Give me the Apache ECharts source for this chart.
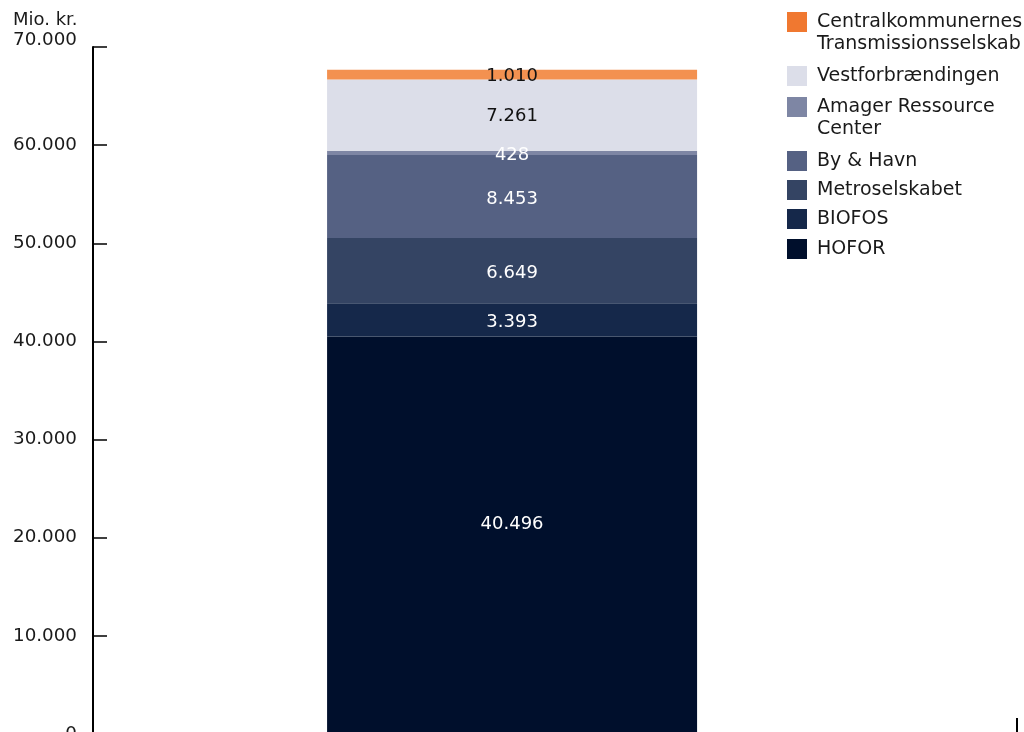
<!DOCTYPE html>
<html>
<head>
<meta charset="utf-8">
<script src="https://cdn.jsdelivr.net/npm/echarts@6/dist/echarts.min.js"></script>
<style>
html,body{margin:0;padding:0;background:#fff;}
#chart{width:1024px;height:732px;}
</style>
</head>
<body>
<div id="chart"></div>
<script>
// ---- data ----
const categories = [''];
const seriesNames = ['HOFOR', 'BIOFOS', 'Metroselskabet', 'By & Havn', 'Amager Ressource Center', 'Vestforbrændingen', 'Centralkommunernes Transmissionsselskab'];
const seriesValues = [40496, 3393, 6649, 8453, 428, 7261, 1010];
const legendLabels = {
  'Centralkommunernes Transmissionsselskab': 'Centralkommunernes\nTransmissionsselskab',
  'Vestforbrændingen': 'Vestforbrændingen',
  'Amager Ressource Center': 'Amager Ressource\nCenter',
  'By & Havn': 'By & Havn',
  'Metroselskabet': 'Metroselskabet',
  'BIOFOS': 'BIOFOS',
  'HOFOR': 'HOFOR'
};
const yTicks = { min: 0, max: 70000, interval: 10000 };
const unitLabel = 'Mio. kr.';

// ---- styles ----
const barColors = ['#000F2C', '#15284A', '#344463', '#556183', '#7E86A4', '#DCDEE9', '#F39150'];
const legendIconColors = ['#000F2C', '#15284A', '#344463', '#556183', '#7E86A4', '#DCDEE9', '#F07830'];
const labelColors = ['#ffffff', '#ffffff', '#ffffff', '#ffffff', '#ffffff', '#111111', '#111111'];
const labelOffsets = [[0, -11], [0, 2], [0, 3], [0, 3], [0, 2], [0, 1], [0, 2]];
const legendOrder = [6, 5, 4, 3, 2, 1, 0];
const legendTops = [-11, 65, 74, 150, 179, 208, 238];
const FONT = 'DejaVu Sans';

function fmt(v) {
  return String(Math.round(v)).replace(/\B(?=(\d{3})+(?!\d))/g, '.');
}

const series = seriesNames.map((name, i) => ({
  name: name,
  type: 'bar',
  stack: 'total',
  barWidth: 370,
  barGap: '-76.8%',
  data: categories.map(() => seriesValues[i]),
  itemStyle: { color: barColors[i] },
  label: {
    show: true,
    position: 'inside',
    offset: labelOffsets[i],
    color: labelColors[i],
    fontFamily: FONT,
    fontSize: 18,
    formatter: p => fmt(p.value)
  },
  emphasis: { disabled: true }
}));
// empty companion stack (holds no values) used only for bar placement in the band
series.push({
  name: '_',
  type: 'bar',
  stack: 'spacer',
  barWidth: 370,
  barGap: '-76.8%',
  data: categories.map(() => '-'),
  itemStyle: { color: 'transparent' },
  silent: true
});

const legends = legendOrder.map((idx, k) => {
  const name = seriesNames[idx];
  const twoLine = legendLabels[name].indexOf('\n') >= 0;
  return {
    orient: 'vertical',
    left: 787,
    top: legendTops[k],
    padding: 0,
    itemWidth: 20,
    itemHeight: 20,
    icon: 'rect',
    selectedMode: false,
    data: [{ name: name, itemStyle: { color: legendIconColors[idx] } }],
    formatter: n => (twoLine ? '\n' : '') + legendLabels[n],
    textStyle: {
      fontFamily: FONT,
      fontSize: 19,
      lineHeight: 22,
      color: '#1a1a1a',
      padding: [0, 0, 0, 5]
    }
  };
});

const chart = echarts.init(document.getElementById('chart'), null, { renderer: 'canvas' });
chart.setOption({
  animation: false,
  backgroundColor: '#ffffff',
  title: {
    text: unitLabel,
    left: 13,
    top: 11,
    padding: 0,
    textStyle: { fontFamily: FONT, fontSize: 18, fontWeight: 'normal', color: '#1a1a1a' }
  },
  legend: legends,
  grid: { left: 93, right: 7, top: 47, bottom: -2, containLabel: false, outerBoundsMode: 'none' },
  xAxis: {
    type: 'category',
    data: categories,
    axisLine: { show: true, lineStyle: { color: '#000', width: 2 } },
    axisTick: { show: true, inside: true, length: 16, lineStyle: { color: '#000', width: 2 } },
    axisLabel: { show: false },
    splitLine: { show: false }
  },
  yAxis: {
    type: 'value',
    min: yTicks.min,
    max: yTicks.max,
    interval: yTicks.interval,
    axisLine: { show: true, lineStyle: { color: '#000', width: 2 } },
    axisTick: { show: true, inside: true, length: 14, lineStyle: { color: '#000', width: 1.5 } },
    axisLabel: {
      show: true,
      margin: 16,
      color: '#1a1a1a',
      fontFamily: FONT,
      fontSize: 18.3,
      formatter: v => (v === yTicks.max ? '{top|' + fmt(v) + '}' : fmt(v)),
      rich: {
        top: { padding: [0, 0, 14, 0], fontFamily: FONT, fontSize: 18.3, color: '#1a1a1a' }
      }
    },
    splitLine: { show: false }
  },
  series: series
});
</script>
</body>
</html>
